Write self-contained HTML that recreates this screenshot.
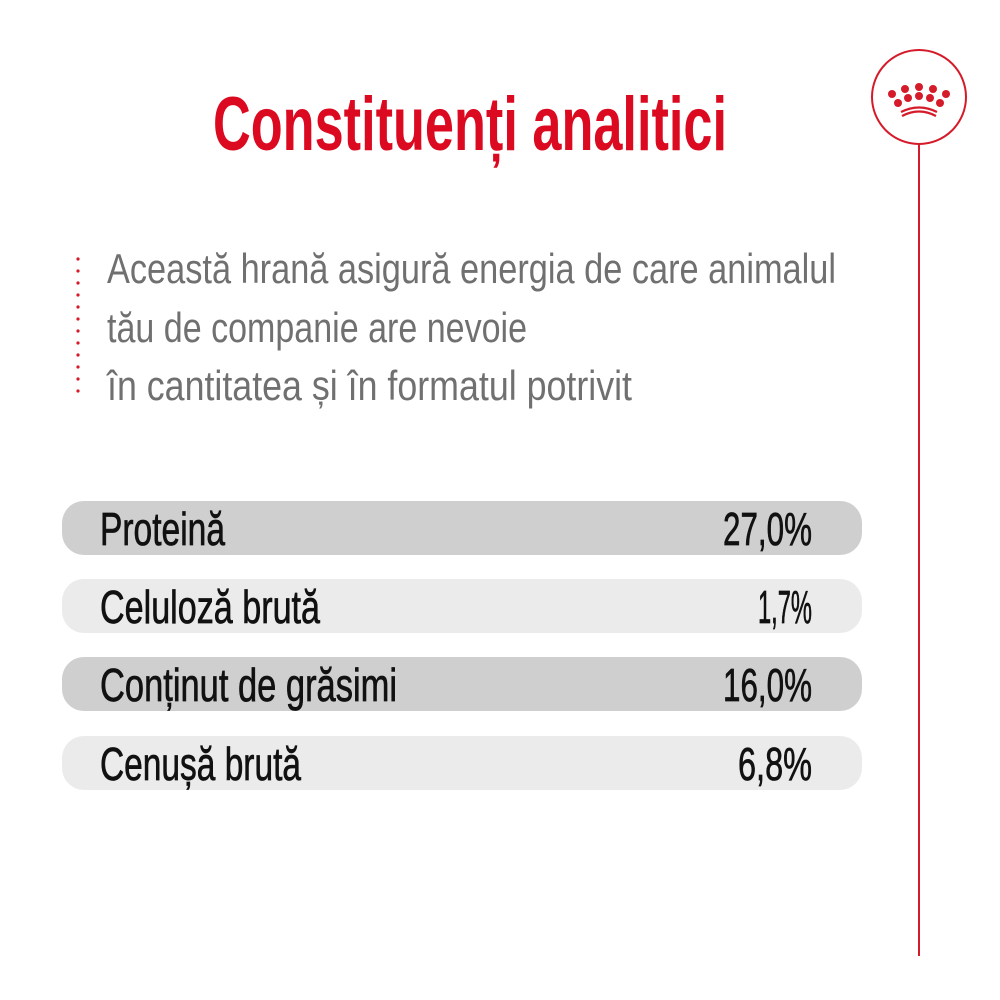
<!DOCTYPE html>
<html><head><meta charset="utf-8"><style>
html,body{margin:0;padding:0;background:#fff;width:1000px;height:1000px;overflow:hidden}
svg{display:block}
text{font-family:"Liberation Sans Narrow","Liberation Sans",sans-serif}
</style></head><body>
<svg width="1000" height="1000" viewBox="0 0 1000 1000" xmlns="http://www.w3.org/2000/svg">
<rect width="1000" height="1000" fill="#fff"/>
<line x1="919" y1="144" x2="919" y2="956" stroke="#d51a2a" stroke-width="2"/>
<circle cx="919" cy="97" r="47" fill="#fff" stroke="#d51a2a" stroke-width="2"/>
<g fill="#d51a2a">
<circle cx="892" cy="94" r="4"/><circle cx="905" cy="89" r="4"/><circle cx="919" cy="87" r="4"/><circle cx="933" cy="89" r="4"/><circle cx="946" cy="94" r="4"/>
<circle cx="898" cy="103" r="4"/><circle cx="908" cy="98" r="4"/><circle cx="919" cy="96" r="4"/><circle cx="930" cy="98" r="4"/><circle cx="940" cy="103" r="4"/>
</g>
<path d="M901 112 Q919 103 937 112" fill="none" stroke="#d51a2a" stroke-width="2.2"/>
<path d="M902 116 Q919 107 936 116" fill="none" stroke="#d51a2a" stroke-width="2.2"/>
<text x="213" y="150" font-size="76" font-weight="bold" fill="#dc0a21" textLength="514" lengthAdjust="spacingAndGlyphs">Constituenți analitici</text>
<g fill="#d51a2a">
<circle cx="78" cy="259" r="1.6"/><circle cx="78" cy="271" r="1.6"/><circle cx="78" cy="283" r="1.6"/><circle cx="78" cy="295" r="1.6"/><circle cx="78" cy="307" r="1.6"/><circle cx="78" cy="319" r="1.6"/><circle cx="78" cy="331" r="1.6"/><circle cx="78" cy="343" r="1.6"/><circle cx="78" cy="355" r="1.6"/><circle cx="78" cy="367" r="1.6"/><circle cx="78" cy="379" r="1.6"/><circle cx="78" cy="391" r="1.6"/>
</g>
<g fill="#707070" font-size="42" font-family="Liberation Sans Narrow, Liberation Sans, sans-serif">
<text x="107" y="283" textLength="729" lengthAdjust="spacingAndGlyphs" style="font-family:'Liberation Sans Narrow','Liberation Sans',sans-serif">Această hrană asigură energia de care animalul</text>
<text x="107" y="342" textLength="420" lengthAdjust="spacingAndGlyphs">tău de companie are nevoie</text>
<text x="107" y="400" textLength="525" lengthAdjust="spacingAndGlyphs">în cantitatea și în formatul potrivit</text>
</g>
<rect x="62" y="501" width="800" height="54" rx="22" fill="#cfcfcf"/>
<rect x="62" y="579" width="800" height="54" rx="22" fill="#ebebeb"/>
<rect x="62" y="657" width="800" height="54" rx="22" fill="#cfcfcf"/>
<rect x="62" y="736" width="800" height="54" rx="22" fill="#ebebeb"/>
<g fill="#111" stroke="#111" stroke-width="0.7" font-size="46">
<text x="100" y="545" textLength="125" lengthAdjust="spacingAndGlyphs">Proteină</text>
<text x="100" y="623" textLength="220" lengthAdjust="spacingAndGlyphs">Celuloză brută</text>
<text x="100" y="701" textLength="297" lengthAdjust="spacingAndGlyphs">Conținut de grăsimi</text>
<text x="100" y="780" textLength="201" lengthAdjust="spacingAndGlyphs">Cenușă brută</text>
<text x="723" y="545" textLength="89" lengthAdjust="spacingAndGlyphs">27,0%</text>
<text x="758" y="623" textLength="54" lengthAdjust="spacingAndGlyphs">1,7%</text>
<text x="723" y="701" textLength="89" lengthAdjust="spacingAndGlyphs">16,0%</text>
<text x="738" y="780" textLength="74" lengthAdjust="spacingAndGlyphs">6,8%</text>
</g>
</svg>
</body></html>
